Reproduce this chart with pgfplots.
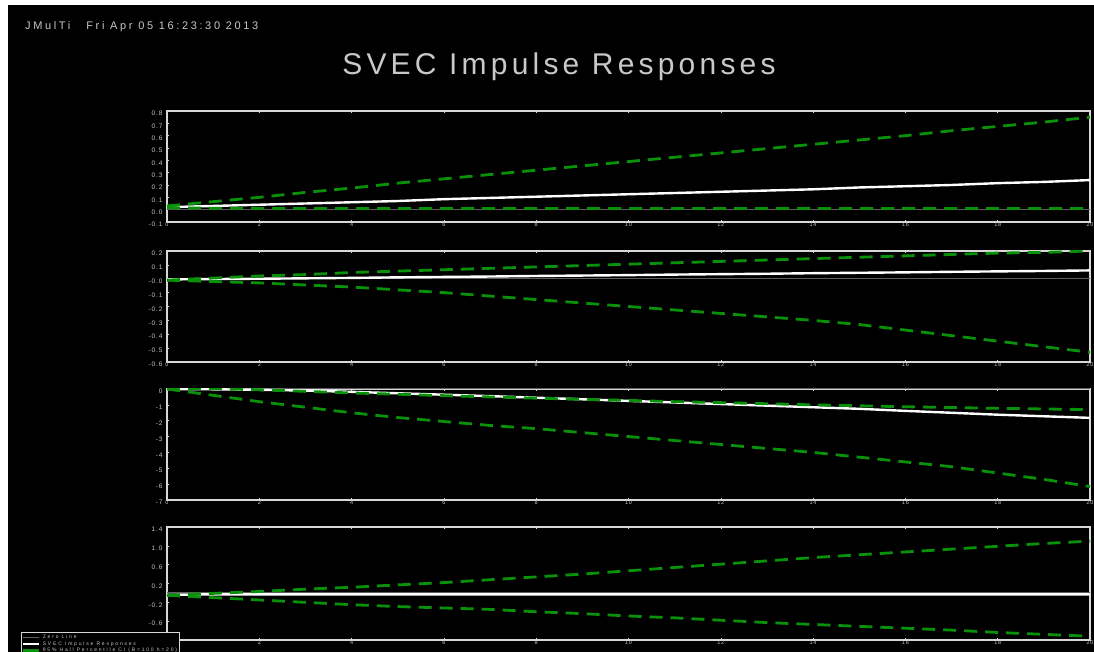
\documentclass[border=0pt]{standalone}
\usepackage{pgfplots}
\pgfplotsset{compat=1.18}
\usepackage{pgfplotstable}
\usepackage{fontspec}
\setmainfont{Liberation Sans}
\newfontfamily\widefont[LetterSpace=14]{Liberation Sans}
\newfontfamily\hdrfont[LetterSpace=24]{Liberation Sans}
\newfontfamily\legfont[LetterSpace=36]{Liberation Sans}

\definecolor{cig}{RGB}{10,145,10}
\definecolor{axgray}{RGB}{215,215,215}
\definecolor{txtgray}{RGB}{200,200,200}
\definecolor{zgray}{RGB}{95,95,95}

% h, impulse response, lower and upper 95% Hall percentile bounds
\pgfplotstableread{
h irf lo hi
0 0.020 0.015 0.030
1 0.030 0.012 0.065
2 0.040 0.010 0.100
3 0.050 0.010 0.140
4 0.060 0.010 0.175
5 0.070 0.010 0.215
6 0.085 0.010 0.250
7 0.095 0.010 0.285
8 0.105 0.010 0.320
9 0.115 0.010 0.355
10 0.125 0.010 0.390
11 0.135 0.010 0.425
12 0.145 0.010 0.460
13 0.155 0.010 0.495
14 0.165 0.010 0.530
15 0.180 0.010 0.565
16 0.190 0.010 0.600
17 0.200 0.010 0.640
18 0.215 0.010 0.675
19 0.225 0.010 0.710
20 0.240 0.010 0.750
}\pone

\pgfplotstableread{
h irf lo hi
0 -0.005 -0.010 -0.010
1 -0.002 -0.020 0.005
2 0.000 -0.030 0.020
3 0.003 -0.045 0.030
4 0.006 -0.060 0.045
5 0.010 -0.080 0.055
6 0.013 -0.100 0.065
7 0.016 -0.125 0.075
8 0.020 -0.150 0.085
9 0.023 -0.175 0.095
10 0.026 -0.200 0.105
11 0.030 -0.225 0.115
12 0.033 -0.250 0.125
13 0.036 -0.275 0.135
14 0.040 -0.300 0.145
15 0.043 -0.330 0.155
16 0.046 -0.370 0.165
17 0.050 -0.410 0.175
18 0.053 -0.450 0.185
19 0.056 -0.490 0.190
20 0.060 -0.530 0.200
}\ptwo

\pgfplotstableread{
h irf lo hi
0 0.00 0.00 0.05
1 -0.02 -0.40 0.02
2 -0.05 -0.80 -0.05
3 -0.10 -1.15 -0.15
4 -0.18 -1.50 -0.25
5 -0.27 -1.80 -0.33
6 -0.36 -2.05 -0.42
7 -0.45 -2.30 -0.50
8 -0.55 -2.50 -0.58
9 -0.65 -2.75 -0.65
10 -0.75 -3.00 -0.72
11 -0.85 -3.25 -0.80
12 -0.95 -3.50 -0.86
13 -1.05 -3.75 -0.93
14 -1.15 -4.00 -1.00
15 -1.25 -4.30 -1.06
16 -1.38 -4.60 -1.12
17 -1.50 -4.90 -1.17
18 -1.62 -5.30 -1.22
19 -1.72 -5.70 -1.26
20 -1.82 -6.15 -1.30
}\pthree

\pgfplotstableread{
h irf lo hi
0 -0.04 -0.05 -0.05
1 -0.03 -0.10 -0.01
2 -0.03 -0.15 0.03
3 -0.03 -0.20 0.08
4 -0.03 -0.25 0.12
5 -0.03 -0.29 0.17
6 -0.03 -0.32 0.22
7 -0.03 -0.35 0.28
8 -0.03 -0.40 0.34
9 -0.03 -0.44 0.40
10 -0.03 -0.49 0.47
11 -0.03 -0.53 0.54
12 -0.03 -0.58 0.61
13 -0.03 -0.63 0.68
14 -0.03 -0.67 0.75
15 -0.03 -0.71 0.81
16 -0.03 -0.75 0.87
17 -0.03 -0.79 0.93
18 -0.03 -0.84 0.99
19 -0.03 -0.88 1.05
20 -0.03 -0.92 1.10
}\pfour

\pgfplotsset{
  panel/.style={
    scale only axis, width=923pt, height=111pt, anchor=south west,
    xmin=0, xmax=20, xtick={0,2,...,20},
    axis line style={draw=axgray, line width=1.6pt},
    tick style={draw=axgray, line width=0.5pt},
    major tick length=2pt,
    xtick pos=both, ytick pos=left,
    ticklabel style={font=\widefont\fontsize{6.5}{7}\selectfont, text=txtgray},
    /pgf/number format/assume math mode=true,
    xticklabel style={yshift=2.5pt, font=\widefont\fontsize{5.5}{6}\selectfont},
    yticklabel style={yshift=-2.5pt, xshift=-1pt},
  },
  zl/.style={zgray, line width=1pt},
  irf/.style={white, line width=2.4pt},
  ci/.style={cig, line width=2.8pt, dash pattern=on 13pt off 8pt},
}

\begin{document}
\begin{tikzpicture}[x=1pt,y=1pt]
\fill[white] (0,0) rectangle (1094,652);
\useasboundingbox (0,0) rectangle (1094,652);
\fill[black] (8,0) rectangle (1094,647);

\node[anchor=west, inner sep=0pt, text=txtgray, font=\hdrfont\fontsize{11}{12}\selectfont] at (25,625)
  {JMulTi\hspace{16pt}Fri Apr 05 16:23:30 2013};
\node[text=txtgray, font=\widefont\fontsize{30}{36}\selectfont] at (559,585)
  {SVEC Impulse Responses};

% panel 1
\begin{axis}[panel, at={(167pt,430pt)}, ymin=-0.1, ymax=0.8,
  ytick={-0.1,0,...,0.8},
  yticklabels={-0.1,0.0,0.1,0.2,0.3,0.4,0.5,0.6,0.7,0.8}]
\addplot[zl] coordinates {(0,0) (20,0)};
\addplot[irf] table[x=h, y=irf] {\pone};
\addplot[ci] table[x=h, y=hi] {\pone};
\addplot[ci] table[x=h, y=lo] {\pone};
\end{axis}

% panel 2
\begin{axis}[panel, at={(167pt,290pt)}, ymin=-0.6, ymax=0.2,
  ytick={-0.6,-0.5,...,0.2},
  yticklabels={-0.6,-0.5,-0.4,-0.3,-0.2,-0.1,-0.0,0.1,0.2}]
\addplot[zl] coordinates {(0,0) (20,0)};
\addplot[irf] table[x=h, y=irf] {\ptwo};
\addplot[ci] table[x=h, y=hi] {\ptwo};
\addplot[ci] table[x=h, y=lo] {\ptwo};
\end{axis}

% panel 3
\begin{axis}[panel, at={(167pt,152pt)}, ymin=-7, ymax=0,
  ytick={-7,-6,...,0},
  yticklabels={-7,-6,-5,-4,-3,-2,-1,0}]
\addplot[zl] coordinates {(0,0) (20,0)};
\addplot[irf] table[x=h, y=irf] {\pthree};
\addplot[ci] table[x=h, y=hi] {\pthree};
\addplot[ci] table[x=h, y=lo] {\pthree};
\end{axis}

% panel 4 with legend
\begin{axis}[panel, at={(167pt,12pt)}, height=113pt, ymin=-1.0, ymax=1.4,
  ytick={-1.0,-0.6,...,1.4},
  yticklabels={-1.0,-0.6,-0.2,0.2,0.6,1.0,1.4},
  legend style={at={(-0.158,0.071)}, anchor=north west, fill=black,
    draw=axgray, line width=0.8pt, text=txtgray,
    font=\legfont\fontsize{5}{5}\selectfont,
    cells={anchor=west}, inner sep=0.5pt, row sep=-2.6pt},
  legend image code/.code={\draw[#1, solid] (0pt,0pt) -- (16pt,0pt);}]
\addplot[zl] coordinates {(0,0) (20,0)};
\addlegendentry{Zero Line}
\addplot[irf] table[x=h, y=irf] {\pfour};
\addlegendentry{SVEC Impulse Responses}
\addplot[ci] table[x=h, y=hi] {\pfour};
\addlegendentry{95\% Hall Percentile CI (B=100 h=20)}
\addplot[ci, forget plot] table[x=h, y=lo] {\pfour};
\end{axis}
\end{tikzpicture}
\end{document}
